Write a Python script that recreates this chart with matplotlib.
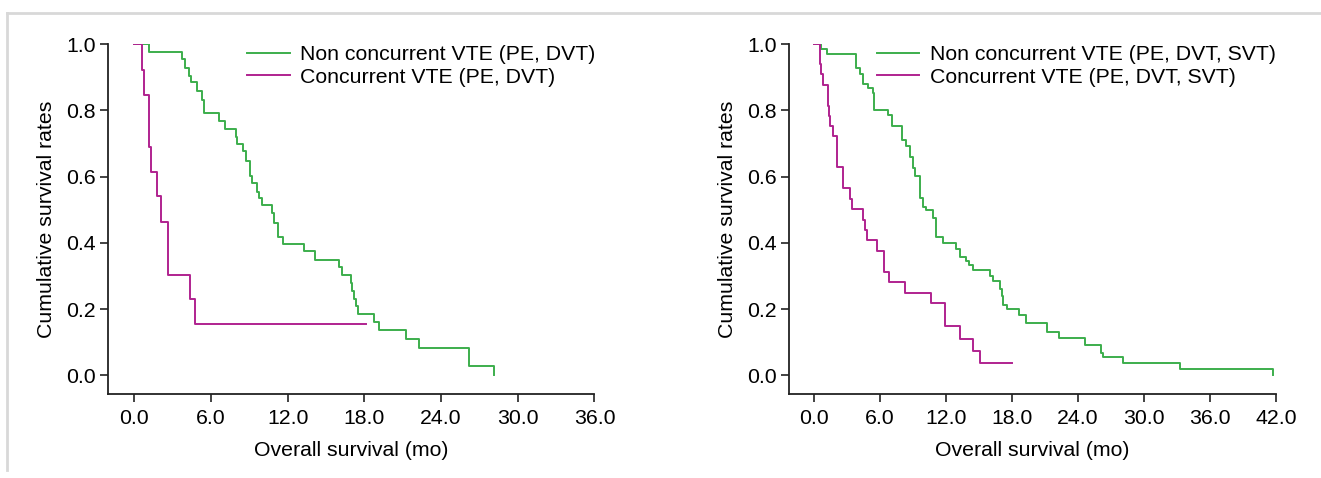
import numpy as np
import matplotlib
matplotlib.use("Agg")
import matplotlib.pyplot as plt
from matplotlib.lines import Line2D

plt.rcParams['font.family'] = ['Liberation Sans', 'DejaVu Sans']
plt.rcParams['font.size'] = 15.3

## step curves (time in months, survival)

# left panel: PE, DVT
t_non_l = [0, 1.17, 3.76, 3.99, 4.28, 4.41, 4.88, 5.30, 5.43, 6.63, 7.12, 7.93, 8.04,
           8.53, 8.74, 9.05, 9.21, 9.58, 9.78, 9.99, 10.75, 10.93, 11.27, 11.66, 13.30,
           14.16, 16.02, 16.28, 16.93, 17.03, 17.21, 17.35, 17.48, 18.76, 19.17, 21.26,
           22.25, 26.17, 28.15]
s_non_l = [1.0, 0.977, 0.955, 0.928, 0.904, 0.885, 0.859, 0.831, 0.793, 0.769, 0.744,
           0.719, 0.698, 0.677, 0.648, 0.602, 0.582, 0.553, 0.535, 0.513, 0.489, 0.460,
           0.418, 0.397, 0.374, 0.349, 0.326, 0.304, 0.279, 0.254, 0.231, 0.209, 0.186,
           0.161, 0.137, 0.111, 0.083, 0.028, 0.0]

t_con_l = [0, 0.63, 0.78, 1.15, 1.33, 1.75, 2.09, 2.61, 4.38, 4.77, 18.11]
s_con_l = [1.0, 0.922, 0.846, 0.690, 0.614, 0.540, 0.462, 0.304, 0.232, 0.155, 0.155]

# right panel: PE, DVT, SVT
t_non_r = [0, 0.64, 1.18, 3.79, 4.18, 4.43, 4.91, 5.34, 5.45, 6.70, 7.09, 8.03, 8.36,
           8.70, 9.00, 9.21, 9.64, 9.94, 10.15, 10.82, 11.06, 11.70, 12.91, 13.30, 13.79,
           14.12, 14.45, 16.00, 16.25, 16.91, 17.06, 17.18, 17.52, 18.64, 19.25, 21.21,
           22.25, 24.66, 26.12, 26.24, 28.06, 33.30, 41.75]
s_non_r = [1.0, 0.985, 0.969, 0.928, 0.910, 0.880, 0.867, 0.851, 0.800, 0.785, 0.753,
           0.709, 0.691, 0.659, 0.626, 0.602, 0.534, 0.508, 0.500, 0.474, 0.418, 0.400,
           0.380, 0.358, 0.345, 0.332, 0.318, 0.299, 0.284, 0.261, 0.241, 0.214, 0.200,
           0.183, 0.157, 0.132, 0.112, 0.093, 0.068, 0.055, 0.037, 0.019, 0.0]

t_con_r = [0, 0.55, 0.67, 0.82, 1.24, 1.33, 1.45, 1.76, 2.12, 2.61, 3.30, 3.48, 4.45,
           4.61, 4.85, 5.70, 6.36, 6.79, 8.24, 10.61, 11.88, 13.30, 14.42, 15.09, 18.03]
s_con_r = [1.0, 0.940, 0.910, 0.877, 0.814, 0.782, 0.752, 0.722, 0.628, 0.565, 0.533,
           0.502, 0.470, 0.438, 0.408, 0.375, 0.313, 0.283, 0.249, 0.220, 0.148, 0.110,
           0.073, 0.038, 0.038]

xticks_l = [0, 6, 12, 18, 24, 30, 36]
xticks_r = [0, 6, 12, 18, 24, 30, 36, 42]
yticks = [0.0, 0.2, 0.4, 0.6, 0.8, 1.0]

GREEN = '#3cae4c'
PINK = '#b0238f'

W, H = 1321, 478
fig = plt.figure(figsize=(W / 100, H / 100), dpi=100)

def px_box(x0, x1, y_top, y_bot):
    return [x0 / W, 1 - y_bot / H, (x1 - x0) / W, (y_bot - y_top) / H]

def panel(rect, xlim, xticks, t1, s1, t2, s2, labels, leg_px):
    ax = fig.add_axes(rect)
    ax.step(t1, s1, where='post', color=GREEN, lw=1.4, label=labels[0])
    ax.step(t2, s2, where='post', color=PINK, lw=1.4, label=labels[1])
    ax.set_xlim(*xlim)
    ax.set_ylim(-0.056, 1.0)
    ax.set_xticks(xticks)
    ax.set_xticklabels(['%.1f' % v for v in xticks])
    ax.set_yticks(yticks)
    ax.set_yticklabels(['%.1f' % v for v in yticks])
    for s in ['top', 'right']:
        ax.spines[s].set_visible(False)
    for s in ['left', 'bottom']:
        ax.spines[s].set_linewidth(1.3)
        ax.spines[s].set_color('#222222')
    ax.spines['left'].set_bounds(-0.056, 1.0)
    ax.spines['bottom'].set_bounds(xlim[0], xticks[-1])
    ax.tick_params(direction='out', length=5.5, width=1.2, color='#222222', pad=5)
    ax.tick_params(axis='y', pad=3.5)
    ax.set_xlabel('Overall survival (mo)', labelpad=10)
    ax.set_ylabel('Cumulative survival rates', labelpad=7)
    ax.legend(loc='upper left', bbox_to_anchor=(leg_px[0] / W, 1 - leg_px[1] / H),
              bbox_transform=fig.transFigure, frameon=False, borderpad=0,
              borderaxespad=0, handlelength=2.0, handletextpad=0.5,
              labelspacing=0.17)
    return ax

panel(px_box(108.3, 594.4, 44, 394), (-2.03, 36.0), xticks_l,
      t_non_l, s_non_l, t_con_l, s_con_l,
      ['Non concurrent VTE (PE, DVT)', 'Concurrent VTE (PE, DVT)'], (247, 45))
panel(px_box(789, 1276, 44, 394), (-2.27, 42.0), xticks_r,
      t_non_r, s_non_r, t_con_r, s_con_r,
      ['Non concurrent VTE (PE, DVT, SVT)', 'Concurrent VTE (PE, DVT, SVT)'], (876.5, 45))

# light grey frame edge of the original image
fig.add_artist(Line2D([7 / W, 7 / W], [1 - 470 / H, 1 - 13 / H], color='#d8d8d8', lw=2,
                      transform=fig.transFigure))
fig.add_artist(Line2D([7 / W, 1.0], [1 - 13 / H, 1 - 13 / H], color='#d8d8d8', lw=2,
                      transform=fig.transFigure))

fig.savefig('out.png', dpi=100)
